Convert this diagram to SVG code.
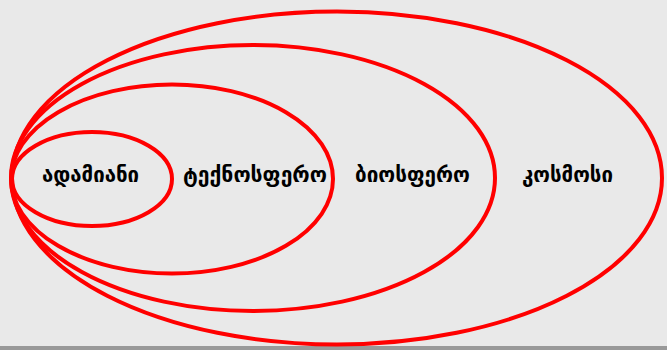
<svg xmlns="http://www.w3.org/2000/svg" width="667" height="350" viewBox="0 0 667 350">
<style>
.ring{fill:none;stroke:#ff0000;stroke-width:4}
.lbl{font-family:"DejaVu Sans","Noto Sans",sans-serif;font-weight:bold;font-size:20.5px;fill:#000;text-anchor:middle}
</style>
<rect x="0" y="0" width="667" height="350" fill="#e9e9e9"/>
<rect x="0" y="346" width="667" height="4" fill="#999999"/>
<g id="kosmosi">
<ellipse class="ring" cx="337" cy="178" rx="325" ry="166.5"/>
<text class="lbl" x="567.5" y="182" textLength="91" lengthAdjust="spacingAndGlyphs">კოსმოსი</text>
</g>
<g id="biosfero">
<ellipse class="ring" cx="253" cy="178" rx="242" ry="133"/>
<text class="lbl" x="412.5" y="182" textLength="115" lengthAdjust="spacingAndGlyphs">ბიოსფერო</text>
</g>
<g id="teqnosfero">
<ellipse class="ring" cx="172" cy="179" rx="161" ry="94.5"/>
<text class="lbl" x="255" y="182" textLength="144" lengthAdjust="spacingAndGlyphs">ტექნოსფერო</text>
</g>
<g id="adamiani">
<ellipse class="ring" cx="92" cy="179" rx="80" ry="47"/>
<text class="lbl" x="90.5" y="182" textLength="97" lengthAdjust="spacingAndGlyphs">ადამიანი</text>
</g>
<g id="connectors"/>
</svg>
